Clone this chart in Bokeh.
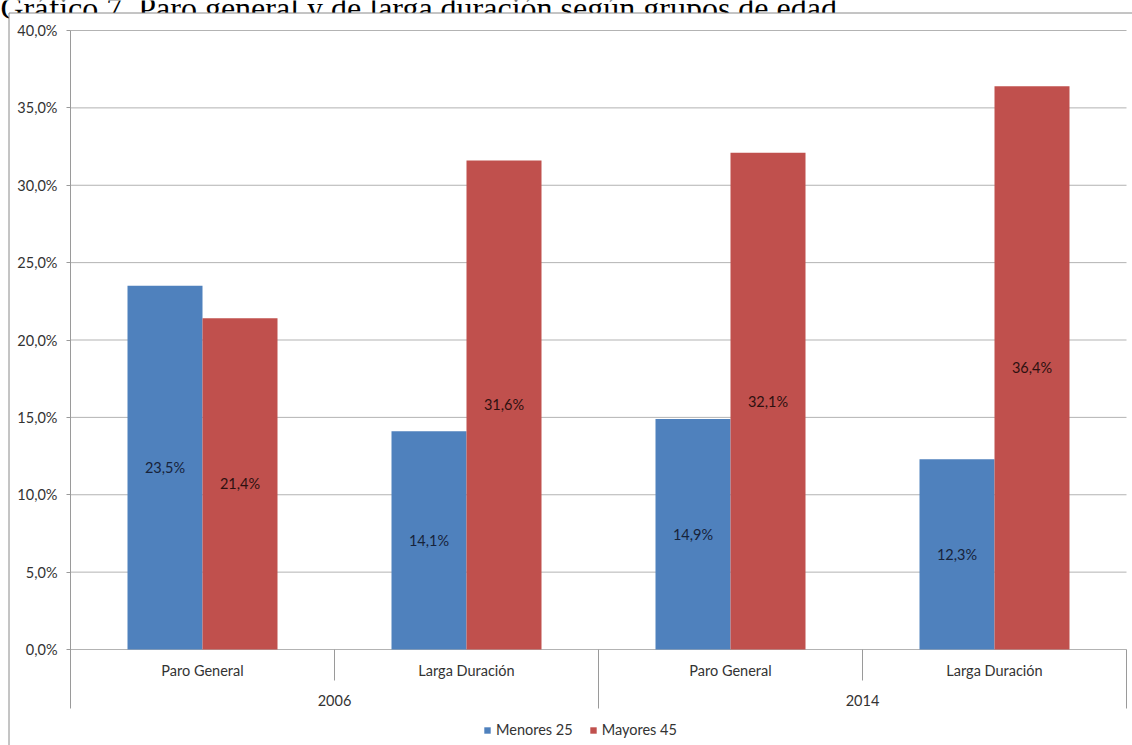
from bokeh.plotting import figure
from bokeh.models import (ColumnDataSource, Range1d, FixedTicker, LinearAxis,
                          Legend, LegendItem, Label)
from bokeh.core.properties import value
from bokeh.embed import file_html
from bokeh.resources import INLINE

# ---------------- data ----------------
chart_title = "Gráfico 7. Paro general y de larga duración según grupos de edad"
years = ["2006", "2006", "2014", "2014"]
types = ["Paro General", "Larga Duración", "Paro General", "Larga Duración"]
group_labels = ["2006", "2014"]
series_names = ["Menores 25", "Mayores 45"]
menores_25 = [23.5, 14.1, 14.9, 12.3]
mayores_45 = [21.4, 31.6, 32.1, 36.4]
y_ticks = [0, 5, 10, 15, 20, 25, 30, 35, 40]


def fmt(v):
    return f"{v:.1f}".replace(".", ",") + "%"


# ---------------- geometry (canvas pixels -> data units) ----------------
W, H = 1132, 745
X0, X1 = 70, 1126          # plot area left / right
Y0, YTOP = 649, 30         # canvas y of 0 % and of 40 %
CAT_PX = (X1 - X0) / len(types)
PX = (Y0 - YTOP) / 40.0


def dx(sx):
    return (sx - X0) / CAT_PX


def dy(sy):
    return (Y0 - sy) / PX


y_bottom = dy(708)

BLUE = "#4F81BD"
RED = "#C0504D"
FONT = "Lato"
FS = "14.5px"
TXT = "#333333"
GRID = "#b3b3b3"
AXC = "#9a9a9a"

p = figure(width=W, height=H, x_range=Range1d(dx(0), dx(W)),
           y_range=Range1d(dy(H), dy(0)),
           output_backend="svg", toolbar_location=None,
           x_axis_location=None, y_axis_location=None, title=None,
           min_border=0)
p.min_border_left = p.min_border_right = 0
p.min_border_top = p.min_border_bottom = 0
p.outline_line_color = None
p.background_fill_color = "white"
p.border_fill_color = "white"
p.xgrid.visible = False
p.ygrid.visible = False

# title (only its lower part shows above the chart box, as in the source)
p.add_layout(Label(x=dx(0), y=dy(7), text=chart_title,
                   text_font="Liberation Serif", text_font_size="32px",
                   text_baseline="alphabetic", text_color="black",
                   level="image"))

# chart box (white, grey top/left edge; right/bottom lie beyond the window)
p.quad(left=[dx(8.5)], right=[dx(W + 20)], top=[dy(12.5)], bottom=[dy(H + 20)],
       fill_color="white", line_color="#8a8a8a", line_width=1, level="underlay")

# horizontal grid lines
p.segment(x0=[0] * len(y_ticks), x1=[len(types)] * len(y_ticks),
          y0=y_ticks, y1=y_ticks, line_color=GRID, line_width=1)

# bars
centers = [i + 0.5 for i in range(len(types))]
BW = 75 / CAT_PX
src = ColumnDataSource(dict(
    xm=[c - BW / 2 for c in centers],
    xM=[c + BW / 2 for c in centers],
    menores=menores_25,
    mayores=mayores_45,
    ym=[v / 2 for v in menores_25],
    yM=[v / 2 for v in mayores_45],
    lm=[fmt(v) for v in menores_25],
    lM=[fmt(v) for v in mayores_45],
))
r1 = p.vbar(x="xm", top="menores", bottom=0, width=BW, source=src,
            fill_color=BLUE, line_color=None)
r2 = p.vbar(x="xM", top="mayores", bottom=0, width=BW, source=src,
            fill_color=RED, line_color=None)

p.text(x="xm", y="ym", text="lm", source=src, text_align="center",
       text_baseline="middle", text_font=value(FONT), text_font_size=FS,
       text_color="#17233a")
p.text(x="xM", y="yM", text="lM", source=src, text_align="center",
       text_baseline="middle", text_font=value(FONT), text_font_size=FS,
       text_color="#2d1010")

# y axis (real Bokeh axis, pinned to the left edge of the plot area)
yax = LinearAxis(fixed_location=0, bounds=(y_bottom, 40),
                 ticker=FixedTicker(ticks=y_ticks))
yax.major_label_overrides = {t: fmt(t) for t in y_ticks}
yax.axis_line_color = AXC
yax.major_tick_line_color = AXC
yax.major_tick_out = 4
yax.major_tick_in = 0
yax.minor_tick_line_color = None
yax.major_label_standoff = 9
yax.major_label_text_font = FONT
yax.major_label_text_font_size = FS
yax.major_label_text_color = TXT
p.add_layout(yax, "left")

# category axis separators
short_x = [1, 3]
long_x = [2, 4]
p.segment(x0=short_x, x1=short_x, y0=[0] * 2, y1=[dy(680)] * 2,
          line_color=AXC, line_width=1)
p.segment(x0=long_x, x1=long_x, y0=[0] * 2, y1=[y_bottom] * 2,
          line_color=AXC, line_width=1)

# category and group labels
p.text(x=centers, y=[dy(670)] * len(types), text=types, text_align="center",
       text_baseline="middle", text_font=value(FONT), text_font_size=FS,
       text_color=TXT)
p.text(x=[1, 3], y=[dy(700)] * 2, text=group_labels, text_align="center",
       text_baseline="middle", text_font=value(FONT), text_font_size=FS,
       text_color=TXT)

# legend
legend = Legend(items=[LegendItem(label=series_names[0], renderers=[r1]),
                       LegendItem(label=series_names[1], renderers=[r2])],
                orientation="horizontal", location=(483, 7),
                glyph_width=8, glyph_height=8, label_standoff=5, spacing=16,
                padding=0, margin=0, label_height=16,
                label_text_font=FONT, label_text_font_size=FS,
                label_text_color=TXT,
                border_line_color=None, background_fill_alpha=0)
p.add_layout(legend, "center")

open("out.html", "w").write(file_html(p, INLINE))
